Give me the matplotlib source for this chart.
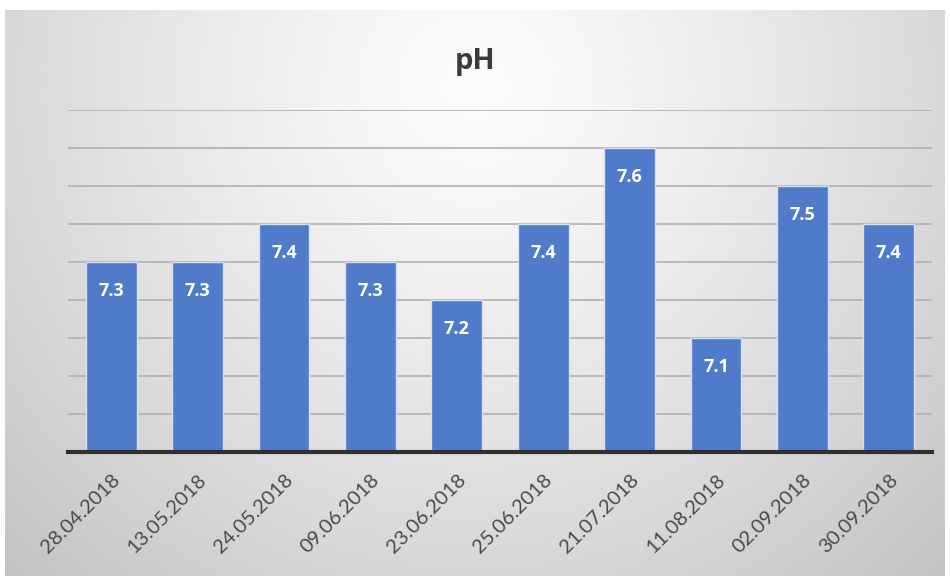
import numpy as np
import matplotlib.pyplot as plt

dates = ["28.04.2018", "13.05.2018", "24.05.2018", "09.06.2018", "23.06.2018",
         "25.06.2018", "21.07.2018", "11.08.2018", "02.09.2018", "30.09.2018"]
ph_values = [7.3, 7.3, 7.4, 7.3, 7.2, 7.4, 7.6, 7.1, 7.5, 7.4]

plt.rcParams['font.family'] = ['Lato', 'DejaVu Sans']

fig = plt.figure(figsize=(9.5, 5.76), dpi=100)

# soft radial grey background behind the chart
bg = fig.add_axes([5 / 950, 0, 940 / 950, 566 / 576], zorder=-5)
yy, xx = np.mgrid[0:300, 0:500]
cx, cy = 250, 40
r = np.sqrt(((xx - cx) / 330.0) ** 2 + ((yy - cy) / 330.0) ** 2)
shade = 0.985 - 0.2 * np.clip(r, 0, 1.2) ** 1.3
bg.imshow(shade, cmap='gray', vmin=0, vmax=1, aspect='auto', interpolation='bicubic')
bg.set_axis_off()

ax = fig.add_axes([68 / 950, 124 / 576, 864 / 950, 342 / 576])
ax.patch.set_alpha(0)

x = np.arange(len(dates))
ax.bar(x, ph_values, width=0.59, color='#4f7bca', edgecolor='#d6e0f2',
       linewidth=1.0, zorder=3)

# value labels inside the top of each bar
for xi, v in zip(x, ph_values):
    ax.text(xi, v - 0.075, f"{v:.1f}", ha='center', va='center', color='white',
            fontsize=13, fontweight='bold', family=['Open Sans', 'DejaVu Sans'],
            zorder=4)

ax.set_ylim(6.8, 7.7)
ax.set_xlim(-0.5, len(dates) - 0.5)
ax.set_yticks(np.arange(6.9, 7.71, 0.1))
ax.yaxis.grid(True, color='#b0b0b0', linewidth=1.2, zorder=0)
ax.tick_params(axis='y', left=False, labelleft=False)
ax.tick_params(axis='x', length=0, pad=14)

ax.set_xticks(x)
ax.set_xticklabels(dates, rotation=45, ha='right', rotation_mode='anchor',
                   fontsize=14.5, color='#4a4a4a')

for side in ['top', 'right', 'left']:
    ax.spines[side].set_visible(False)
ax.spines['bottom'].set_color('#303030')
ax.spines['bottom'].set_linewidth(3)
ax.spines['bottom'].set_zorder(5)

fig.text(0.5, 1 - 62 / 576, "pH", ha='center', va='center', fontsize=21,
         fontweight='bold', family=['Open Sans', 'DejaVu Sans'], color='#3a3a3a')

fig.savefig('out.png', dpi=100)
